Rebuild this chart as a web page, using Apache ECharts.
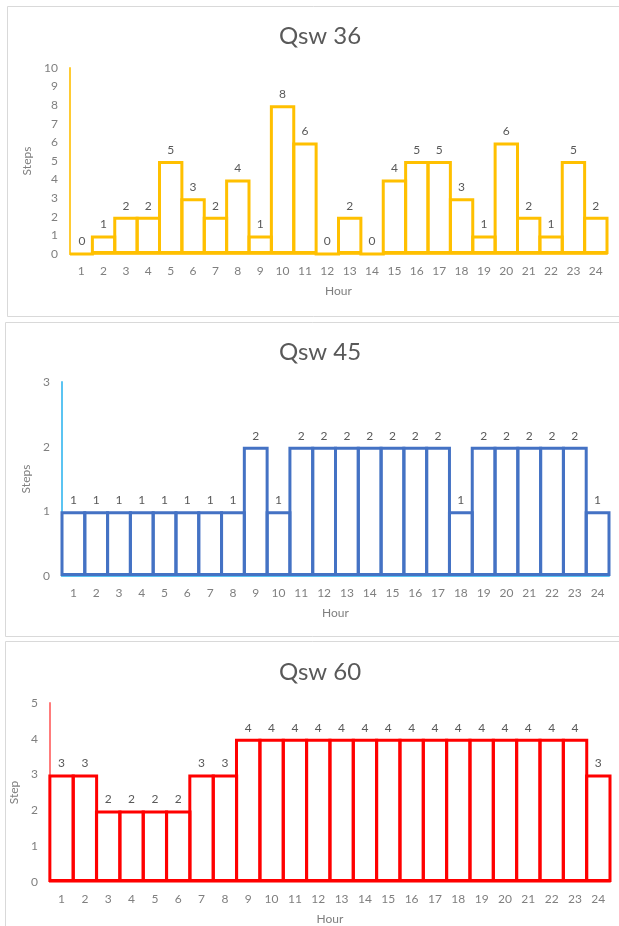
<!DOCTYPE html>
<html>
<head>
<meta charset="utf-8">
<script src="https://cdn.jsdelivr.net/npm/echarts@6/dist/echarts.min.js"></script>
<style>
  html, body { margin: 0; padding: 0; background: #ffffff; }
  #chart { width: 619px; height: 926px; }
</style>
</head>
<body>
<div id="chart"></div>
<script>
// Hourly step counts for the three Qsw settings
const hours = ['1','2','3','4','5','6','7','8','9','10','11','12','13','14','15','16','17','18','19','20','21','22','23','24'];
const qsw36 = [0, 1, 2, 2, 5, 3, 2, 4, 1, 8, 6, 0, 2, 0, 4, 5, 5, 3, 1, 6, 2, 1, 5, 2];
const qsw45 = [1, 1, 1, 1, 1, 1, 1, 1, 2, 1, 2, 2, 2, 2, 2, 2, 2, 1, 2, 2, 2, 2, 2, 1];
const qsw60 = [3, 3, 2, 2, 2, 2, 3, 3, 4, 4, 4, 4, 4, 4, 4, 4, 4, 4, 4, 4, 4, 4, 4, 3];

const titles = ['Qsw 36', 'Qsw 45', 'Qsw 60'];
const yNames = ['Steps', 'Steps', 'Step'];
const yMax = [10, 3, 5];

const WIDTH = 619;
const BORDER = 3;
const FONT = 'Lato, "Open Sans", sans-serif';
const panels = [
  { data: qsw36, bar: '#FFC000', axis: '#FFCB33',
    grid: { left: 70, right: 12, top: 68, height: 186 }, titleTop: 19, yGap: 30, box: [7, 6, 640, 310] },
  { data: qsw45, bar: '#4472C4', axis: '#5BC4F2',
    grid: { left: 62, right: 10, top: 382, height: 194 }, titleTop: 335, yGap: 24, box: [5, 322, 640, 314] },
  { data: qsw60, bar: '#FF0000', axis: '#FF7C7C',
    grid: { left: 46, right: 9, top: 703, height: 180 }, titleTop: 655, yGap: 24, box: [5, 641, 640, 320] }
];

// Bars touch each other; ECharts strokes bar borders on the inside, so widen each
// bar by one border width so neighbouring outlines land on the shared edge.
function barWidthFor(grid) {
  return (WIDTH - grid.left - grid.right) / hours.length + BORDER;
}

const option = {
  animation: false,
  backgroundColor: '#ffffff',
  graphic: panels.map(p => ({
    type: 'rect', z: -10, silent: true,
    shape: { x: p.box[0] + 0.5, y: p.box[1] + 0.5, width: p.box[2], height: p.box[3] },
    style: { fill: '#ffffff', stroke: '#D9D9D9', lineWidth: 1 }
  })),
  title: panels.map((p, i) => ({
    text: titles[i], left: 315, top: p.titleTop, textAlign: 'center',
    textStyle: { fontFamily: FONT, fontSize: 24, fontWeight: 'normal', color: '#595959' }
  })),
  grid: panels.map(p => p.grid),
  xAxis: panels.map((p, i) => ({
    type: 'category', gridIndex: i, data: hours,
    name: 'Hour', nameLocation: 'middle', nameGap: 31,
    nameTextStyle: { fontFamily: FONT, fontSize: 12, color: '#7F7F7F' },
    axisLine: { show: true, lineStyle: { color: p.axis, width: 2 } },
    axisTick: { show: false },
    axisLabel: { fontFamily: FONT, fontSize: 12, color: '#7F7F7F', margin: 11, interval: 0 },
    splitLine: { show: false }
  })),
  yAxis: panels.map((p, i) => ({
    type: 'value', gridIndex: i, min: 0, max: yMax[i], interval: 1,
    name: yNames[i], nameLocation: 'middle', nameGap: p.yGap,
    nameTextStyle: { fontFamily: FONT, fontSize: 12, color: '#7F7F7F' },
    axisLine: { show: true, lineStyle: { color: p.axis, width: 2 } },
    axisTick: { show: false },
    axisLabel: { fontFamily: FONT, fontSize: 12, color: '#7F7F7F', margin: 12 },
    splitLine: { show: false }
  })),
  series: panels.map((p, i) => ({
    type: 'bar', xAxisIndex: i, yAxisIndex: i,
    data: p.data,
    barWidth: barWidthFor(p.grid),
    itemStyle: { color: 'rgba(255,255,255,0)', borderColor: p.bar, borderWidth: BORDER },
    label: {
      show: true, position: 'top', distance: 5,
      fontFamily: FONT, fontSize: 12, color: '#595959'
    }
  }))
};

const chart = echarts.init(document.getElementById('chart'), null, { renderer: 'canvas' });
chart.setOption(option);
</script>
</body>
</html>
